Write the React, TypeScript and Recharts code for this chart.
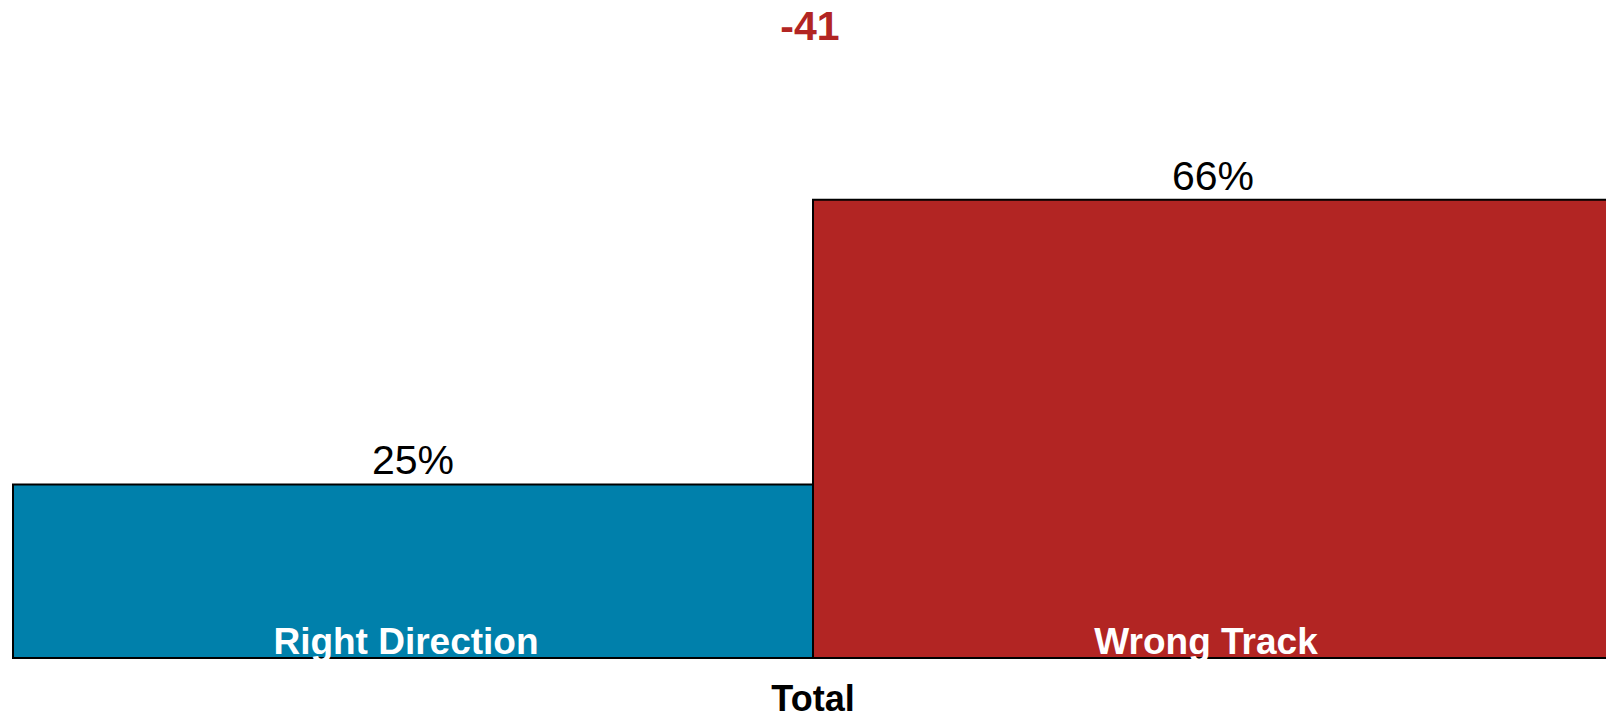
import { BarChart, Bar, XAxis, YAxis, LabelList } from "recharts";

const categories = ["Total"];
const rightDirection = [25];
const wrongTrack = [66];
const seriesNames = ["Right Direction", "Wrong Track"];

const data = categories.map((name, i) => ({
  name,
  right: rightDirection[i],
  wrong: wrongTrack[i],
}));

const netValue = rightDirection[0] - wrongTrack[0];

const FONT = "'Liberation Sans', Arial, sans-serif";

const insideName = (label: string) => (props: any) => {
  const { x, y, width, height } = props;
  return (
    <text
      x={x + width / 2 - 7}
      y={y + height - 4}
      textAnchor="middle"
      fill="#ffffff"
      fontFamily={FONT}
      fontWeight="bold"
      fontSize={37}
    >
      {label}
    </text>
  );
};

const TotalTick = (props: any) => {
  const { x, y, payload } = props;
  return (
    <text
      x={x}
      y={y + 45}
      textAnchor="middle"
      fill="#000000"
      fontFamily={FONT}
      fontWeight="bold"
      fontSize={36}
    >
      {payload.value}
    </text>
  );
};

export default function App() {
  // pinned to the viewport so the right bar can run off the edge like the original
  return (
    <div
      style={{
        position: "absolute",
        top: 0,
        left: 0,
        width: 1606,
        height: 719,
        overflow: "hidden",
        background: "#ffffff",
        fontFamily: FONT,
      }}
    >
      <div
        style={{
          position: "absolute",
          top: 3,
          left: 0,
          width: 1620,
          textAlign: "center",
          color: "#b22523",
          fontWeight: "bold",
          fontSize: 41,
        }}
      >
        {netValue}
      </div>
      <BarChart
        width={1620}
        height={719}
        data={data}
        margin={{ top: 33, right: 7, bottom: 0, left: 13 }}
        barCategoryGap={0}
        barGap={0}
      >
        <XAxis
          dataKey="name"
          axisLine={false}
          tickLine={false}
          height={61}
          tick={<TotalTick />}
        />
        <YAxis hide domain={[0, 90]} />
        <Bar
          dataKey="right"
          fill="#0080ab"
          stroke="#000000"
          strokeWidth={2}
          isAnimationActive={false}
        >
          <LabelList
            dataKey="right"
            position="top"
            offset={10}
            formatter={(v: any) => `${v}%`}
            fill="#000000"
            fontSize={41}
            fontFamily={FONT}
          />
          <LabelList dataKey="right" content={insideName(seriesNames[0])} />
        </Bar>
        <Bar
          dataKey="wrong"
          fill="#b22523"
          stroke="#000000"
          strokeWidth={2}
          isAnimationActive={false}
        >
          <LabelList
            dataKey="wrong"
            position="top"
            offset={10}
            formatter={(v: any) => `${v}%`}
            fill="#000000"
            fontSize={41}
            fontFamily={FONT}
          />
          <LabelList dataKey="wrong" content={insideName(seriesNames[1])} />
        </Bar>
      </BarChart>
    </div>
  );
}
